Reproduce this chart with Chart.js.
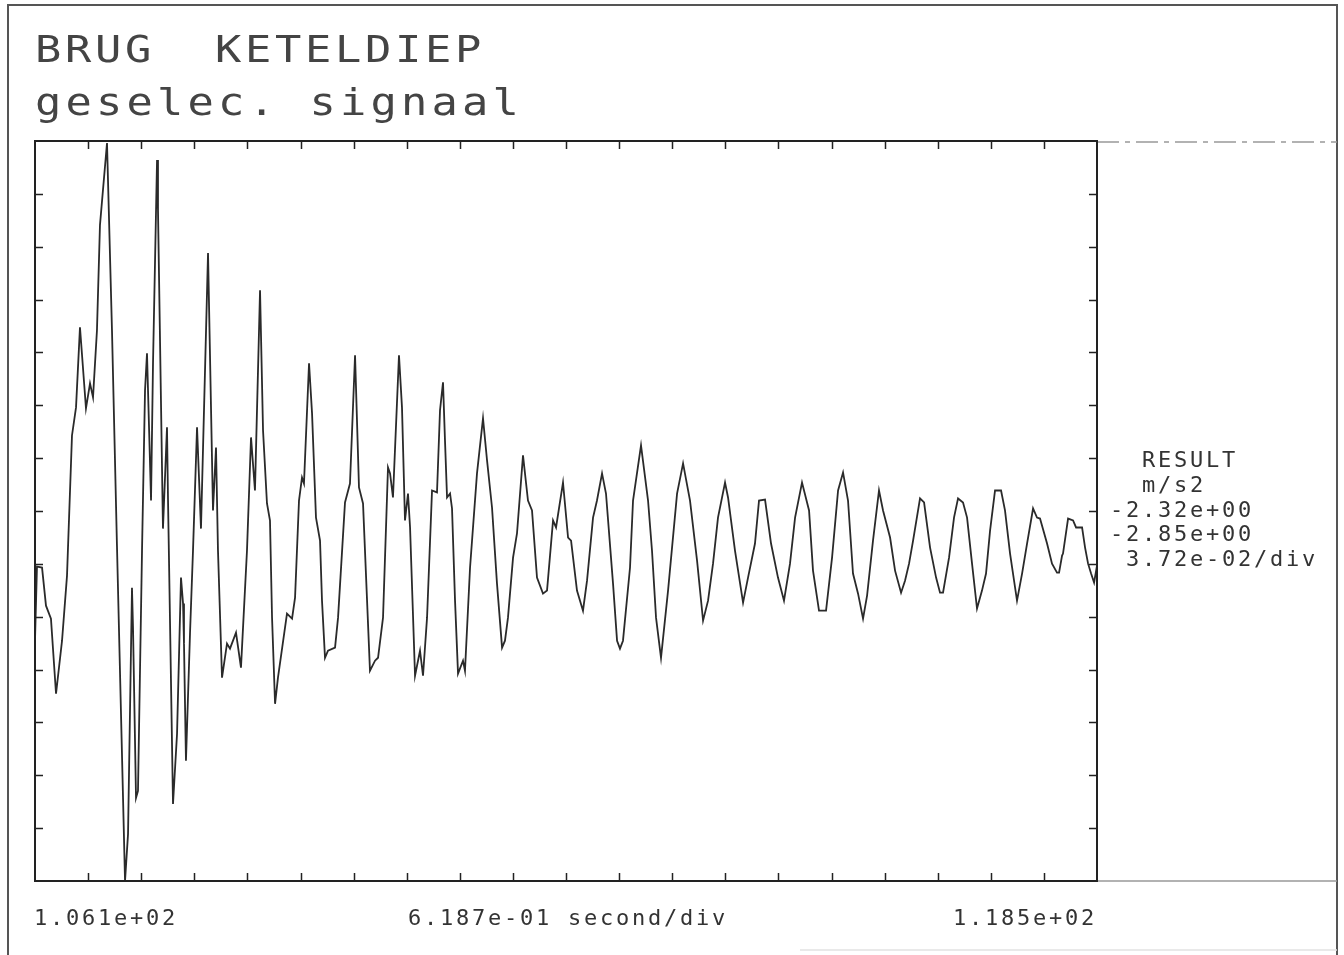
<!DOCTYPE html>
<html>
<head>
<meta charset="utf-8">
<title>BRUG KETELDIEP - geselec. signaal</title>
<script src="https://cdn.jsdelivr.net/npm/chart.js@4.4.1/dist/chart.umd.min.js"></script>
<style>
  html, body { margin: 0; padding: 0; background: #fff; }
  #wrap { width: 1344px; height: 955px; }
</style>
</head>
<body>
<div id="wrap"><canvas id="signalChart" width="1344" height="955"></canvas></div>
<script>
// Titles and annotation text
const titleLines = ['BRUG  KETELDIEP', 'geselec. signaal'];
const channelName = 'RESULT';
const channelUnit = 'm/s2';
const xUnit = 'second/div';

// Axis settings (as printed on the plot)
const xStart = 106.1;     // s
const xPerDiv = 0.6187;   // s per division
const xDivisions = 20;
const yTop = -2.32;       // m/s2
const yBottom = -2.85;    // m/s2
const yPerDiv = 0.0372;   // m/s2 per division (printed)
const yDivisions = 14;

// Signal: time (s) and acceleration (m/s2)
const timeS = [
  106.100, 106.123, 106.182, 106.228, 106.286, 106.345, 106.415, 106.473, 106.531, 106.578,
  106.624, 106.694, 106.741, 106.776, 106.822, 106.857, 106.939, 106.997, 107.055, 107.149,
  107.184, 107.230, 107.242, 107.277, 107.300, 107.347, 107.382, 107.405, 107.452, 107.475,
  107.522, 107.533, 107.591, 107.638, 107.650, 107.708, 107.755, 107.801, 107.825, 107.836,
  107.859, 107.906, 107.941, 107.988, 108.034, 108.058, 108.116, 108.174, 108.209, 108.232,
  108.279, 108.337, 108.372, 108.442, 108.500, 108.570, 108.617, 108.663, 108.722, 108.757,
  108.803, 108.838, 108.862, 108.897, 108.931, 109.036, 109.095, 109.130, 109.176, 109.211,
  109.234, 109.293, 109.328, 109.374, 109.421, 109.444, 109.479, 109.514, 109.596, 109.631,
  109.712, 109.770, 109.829, 109.875, 109.922, 110.003, 110.062, 110.097, 110.155, 110.213,
  110.237, 110.271, 110.341, 110.376, 110.411, 110.446, 110.470, 110.528, 110.586, 110.621,
  110.668, 110.726, 110.784, 110.819, 110.854, 110.877, 110.901, 110.936, 110.959, 110.994,
  111.029, 111.087, 111.110, 111.169, 111.250, 111.320, 111.367, 111.425, 111.483, 111.542,
  111.576, 111.611, 111.670, 111.716, 111.786, 111.844, 111.891, 111.949, 112.019, 112.066,
  112.136, 112.171, 112.252, 112.311, 112.346, 112.415, 112.485, 112.532, 112.602, 112.648,
  112.707, 112.753, 112.835, 112.882, 112.916, 112.951, 113.033, 113.068, 113.161, 113.243,
  113.289, 113.336, 113.394, 113.476, 113.581, 113.651, 113.732, 113.814, 113.884, 113.942,
  114.000, 114.058, 114.140, 114.175, 114.256, 114.350, 114.408, 114.489, 114.536, 114.606,
  114.676, 114.757, 114.827, 114.897, 114.956, 115.037, 115.119, 115.165, 115.235, 115.317,
  115.387, 115.457, 115.515, 115.573, 115.631, 115.690, 115.748, 115.795, 115.864, 115.934,
  115.981, 116.063, 116.121, 116.191, 116.237, 116.284, 116.331, 116.412, 116.459, 116.529,
  116.599, 116.645, 116.680, 116.750, 116.808, 116.855, 116.913, 116.960, 117.018, 117.076,
  117.134, 117.181, 117.228, 117.286, 117.356, 117.402, 117.461, 117.542, 117.601, 117.659,
  117.729, 117.775, 117.810, 117.892, 117.950, 118.008, 118.032, 118.067, 118.078, 118.137,
  118.195, 118.230, 118.300, 118.335, 118.370, 118.405, 118.440, 118.474
];
const accel = [
  -2.6779, -2.6248, -2.6255, -2.6528, -2.6621, -2.7159, -2.6779, -2.6313, -2.5309, -2.5108,
  -2.4534, -2.5115, -2.4936, -2.5036, -2.4556, -2.3802, -2.3214, -2.4556, -2.6097, -2.8500,
  -2.8163, -2.6399, -2.6686, -2.7905, -2.7855, -2.6133, -2.4986, -2.4720, -2.5775, -2.4792,
  -2.3336, -2.3695, -2.5976, -2.5251, -2.5775, -2.7948, -2.7446, -2.6327, -2.6513, -2.6800,
  -2.7639, -2.6729, -2.6133, -2.5251, -2.5976, -2.5395, -2.4003, -2.5846, -2.5395, -2.6133,
  -2.7044, -2.6800, -2.6836, -2.6721, -2.6972, -2.6133, -2.5323, -2.5703, -2.4269, -2.5273,
  -2.5796, -2.5918, -2.6614, -2.7231, -2.7044, -2.6585, -2.6621, -2.6470, -2.5775, -2.5610,
  -2.5653, -2.4792, -2.5151, -2.5897, -2.6062, -2.6492, -2.6901, -2.6851, -2.6829, -2.6614,
  -2.5789, -2.5653, -2.4735, -2.5681, -2.5796, -2.6994, -2.6922, -2.6901, -2.6614, -2.5538,
  -2.5581, -2.5753, -2.4735, -2.5108, -2.5918, -2.5725, -2.5968, -2.7030, -2.6851, -2.7030,
  -2.6614, -2.5703, -2.5717, -2.5129, -2.4928, -2.5344, -2.5753, -2.5725, -2.5832, -2.6492,
  -2.7015, -2.6922, -2.6994, -2.6255, -2.5581, -2.5187, -2.5488, -2.5825, -2.6370, -2.6829,
  -2.6779, -2.6614, -2.6184, -2.6011, -2.5452, -2.5775, -2.5846, -2.6327, -2.6442, -2.6420,
  -2.5918, -2.5968, -2.5646, -2.6040, -2.6062, -2.6420, -2.6564, -2.6349, -2.5897, -2.5775,
  -2.5581, -2.5725, -2.6370, -2.6779, -2.6836, -2.6779, -2.6255, -2.5775, -2.5380, -2.5775,
  -2.6133, -2.6614, -2.6901, -2.6420, -2.5725, -2.5509, -2.5775, -2.6205, -2.6635, -2.6492,
  -2.6227, -2.5897, -2.5646, -2.5753, -2.6133, -2.6506, -2.6327, -2.6083, -2.5775, -2.5768,
  -2.6083, -2.6327, -2.6492, -2.6227, -2.5897, -2.5646, -2.5846, -2.6277, -2.6564, -2.6564,
  -2.6184, -2.5703, -2.5574, -2.5775, -2.6298, -2.6442, -2.6621, -2.6456, -2.6062, -2.5703,
  -2.5846, -2.6040, -2.6277, -2.6435, -2.6349, -2.6227, -2.6062, -2.5760, -2.5789, -2.6112,
  -2.6327, -2.6435, -2.6435, -2.6184, -2.5897, -2.5760, -2.5789, -2.5897, -2.6227, -2.6549,
  -2.6420, -2.6298, -2.5990, -2.5703, -2.5703, -2.5846, -2.6155, -2.6492, -2.6298, -2.6083,
  -2.5832, -2.5897, -2.5904, -2.6083, -2.6227, -2.6291, -2.6291, -2.6169, -2.6155, -2.5904,
  -2.5918, -2.5968, -2.5968, -2.6112, -2.6227, -2.6298, -2.6363, -2.6241
];

const xEnd = xStart + xDivisions * xPerDiv;

// plotter style number format: 1.061e+02
function sci(v, digits) {
  const parts = v.toExponential(digits).split('e');
  const n = parseInt(parts[1], 10);
  return parts[0] + 'e' + (n < 0 ? '-' : '+') + String(Math.abs(n)).padStart(2, '0');
}

const INK = '#333';
const MONO = '"DejaVu Sans Mono", "Liberation Mono", monospace';

// fixed pitch text; stretch widens the glyphs a bit like the plotter font
function monoText(ctx, str, x, y, size, pitch, stretch) {
  const sx = stretch || 1;
  ctx.save();
  ctx.translate(x, y);
  ctx.scale(sx, 1);
  ctx.font = size + 'px ' + MONO;
  ctx.letterSpacing = (pitch / sx - size * 0.602).toFixed(2) + 'px';
  ctx.fillText(str, 0, 0);
  ctx.restore();
}

const frameAndTicks = {
  id: 'frameAndTicks',
  beforeDraw(chart) {
    const ctx = chart.ctx;
    ctx.save();
    ctx.fillStyle = '#fff';
    ctx.fillRect(0, 0, chart.width, chart.height);
    ctx.restore();
  },
  afterDraw(chart) {
    const ctx = chart.ctx;
    const a = chart.chartArea;
    const xs = chart.scales.x, ys = chart.scales.y;
    const W = chart.width, H = chart.height;
    const tick = 8;
    ctx.save();

    // page border
    ctx.strokeStyle = '#555';
    ctx.lineWidth = 2;
    ctx.beginPath();
    ctx.moveTo(8, H);
    ctx.lineTo(8, 5);
    ctx.lineTo(W - 7, 5);
    ctx.lineTo(W - 7, H);
    ctx.stroke();

    // extensions to the right of the plot box
    ctx.strokeStyle = '#999';
    ctx.lineWidth = 1.5;
    ctx.setLineDash([22, 6, 5, 6]);
    ctx.beginPath();
    ctx.moveTo(a.right, a.top + 1);
    ctx.lineTo(W - 7, a.top + 1);
    ctx.stroke();
    ctx.setLineDash([]);
    ctx.beginPath();
    ctx.moveTo(a.right, a.bottom);
    ctx.lineTo(W - 7, a.bottom);
    ctx.stroke();
    ctx.strokeStyle = '#e2e2e2';
    ctx.beginPath();
    ctx.moveTo(800, H - 5);
    ctx.lineTo(W - 7, H - 5);
    ctx.stroke();

    // plot box
    ctx.strokeStyle = '#222';
    ctx.lineWidth = 2;
    ctx.strokeRect(a.left, a.top, a.right - a.left, a.bottom - a.top);

    // inward ticks on all four sides
    ctx.lineWidth = 1.5;
    ctx.beginPath();
    for (let i = 1; i < xDivisions; i++) {
      const px = Math.round(xs.getPixelForValue(xStart + i * xPerDiv)) + 0.5;
      ctx.moveTo(px, a.top); ctx.lineTo(px, a.top + tick);
      ctx.moveTo(px, a.bottom); ctx.lineTo(px, a.bottom - tick);
    }
    for (let j = 1; j < yDivisions; j++) {
      const py = Math.round(ys.getPixelForValue(yTop - j * (yTop - yBottom) / yDivisions)) + 0.5;
      ctx.moveTo(a.left, py); ctx.lineTo(a.left + tick, py);
      ctx.moveTo(a.right, py); ctx.lineTo(a.right - tick, py);
    }
    ctx.stroke();

    // titles
    ctx.fillStyle = '#444';
    ctx.textBaseline = 'alphabetic';
    ctx.textAlign = 'left';
    monoText(ctx, titleLines[0], a.left, 62, 38, 30, 1.15);
    monoText(ctx, titleLines[1], a.left, 115, 38, 30.5, 1.15);

    // channel block at right
    ctx.fillStyle = INK;
    const rx = a.right + 13;
    const block = [
      '  ' + channelName,
      '  ' + channelUnit,
      sci(yTop, 2),
      sci(yBottom, 2),
      ' ' + sci(yPerDiv, 2) + '/div'
    ];
    block.forEach((s, k) => monoText(ctx, s, rx, 467 + k * 24.8, 22, 16));

    // x labels under the plot
    const by = a.bottom + 44;
    monoText(ctx, sci(xStart, 3), a.left - 1, by, 22, 16);
    const mid = sci(xPerDiv, 3) + ' ' + xUnit;
    monoText(ctx, mid, (a.left + a.right) / 2 - mid.length * 16 / 2 + 2, by, 22, 16);
    const endLbl = sci(xEnd, 3);
    monoText(ctx, endLbl, a.right - 3 - (endLbl.length * 16 - 3), by, 22, 16);

    ctx.restore();
  }
};

const points = timeS.map((t, i) => ({ x: t, y: accel[i] }));

new Chart(document.getElementById('signalChart'), {
  type: 'line',
  data: {
    datasets: [{
      label: channelName,
      data: points,
      borderColor: '#2a2a2a',
      borderWidth: 1.8,
      pointRadius: 0,
      tension: 0,
      fill: false
    }]
  },
  options: {
    responsive: false,
    animation: false,
    devicePixelRatio: 1,
    layout: { padding: { left: 35, top: 141, right: 247, bottom: 74 } },
    plugins: { legend: { display: false }, tooltip: { enabled: false } },
    scales: {
      x: { type: 'linear', display: false, min: xStart, max: xEnd },
      y: { type: 'linear', display: false, min: yBottom, max: yTop }
    }
  },
  plugins: [frameAndTicks]
});
</script>
</body>
</html>
